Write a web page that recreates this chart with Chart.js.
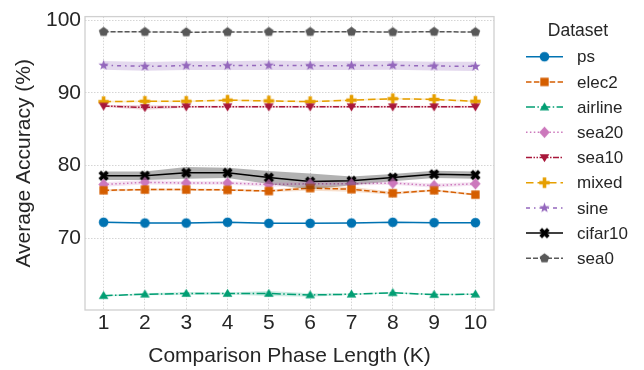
<!DOCTYPE html>
<html><head><meta charset="utf-8">
<script src="https://cdn.jsdelivr.net/npm/chart.js@4/dist/chart.umd.min.js"></script>
<style>html,body{margin:0;padding:0;background:#fff}#wrap{width:644px;height:370px}</style>
</head><body><div id="wrap"><canvas id="c" width="644" height="370"></canvas></div>
<script>
const phaseLengths = [1,2,3,4,5,6,7,8,9,10];
const yTickValues = [70,80,90,100];
const seriesNames = ['ps','elec2','airline','sea20','sea10','mixed','sine','cifar10','sea0'];
const ps      = [72.2,72.1,72.1,72.2,72.05,72.05,72.1,72.2,72.15,72.15];
const elec2   = [76.6,76.7,76.7,76.65,76.5,76.9,76.75,76.2,76.6,76.0];
const airline = [62.1,62.3,62.4,62.4,62.4,62.2,62.3,62.5,62.25,62.3];
const sea20   = [77.4,77.7,77.6,77.6,77.4,77.5,77.5,77.6,77.25,77.5];
const sea10   = [88.2,88.0,88.1,88.1,88.1,88.1,88.1,88.1,88.1,88.1];
const mixed   = [88.8,88.85,88.85,89.0,88.9,88.8,89.0,89.2,89.1,88.85];
const sine    = [93.8,93.65,93.75,93.75,93.8,93.75,93.75,93.8,93.7,93.65];
const cifar10 = [78.6,78.6,79.0,79.0,78.35,77.8,77.9,78.35,78.8,78.7];
const sea0    = [98.4,98.4,98.35,98.38,98.4,98.4,98.42,98.38,98.42,98.38];
// spread (half width of the shaded band)
const psStd      = [0.1,0.08,0.08,0.1,0.08,0.08,0.08,0.08,0.08,0.08];
const elec2Std   = [0.15,0.15,0.15,0.15,0.15,0.35,0.35,0.2,0.15,0.15];
const airlineStd = [0.1,0.15,0.2,0.15,0.35,0.25,0.1,0.1,0.1,0.1];
const sea20Std   = [0.3,0.3,0.25,0.25,0.3,0.3,0.25,0.25,0.3,0.25];
const sea10Std   = [0.15,0.3,0.15,0.15,0.15,0.15,0.15,0.15,0.15,0.15];
const mixedStd   = [0.12,0.12,0.12,0.12,0.12,0.12,0.12,0.12,0.12,0.12];
const sineStd    = [0.6,0.6,0.6,0.6,0.65,0.6,0.6,0.6,0.6,0.65];
const cifar10Std = [0.6,0.6,0.8,0.7,0.9,1.1,0.6,0.5,0.5,0.5];
const sea0Std    = [0.08,0.08,0.08,0.08,0.08,0.08,0.08,0.08,0.08,0.08];

const values = {ps,elec2,airline,sea20,sea10,mixed,sine,cifar10,sea0};
const stds = {ps:psStd,elec2:elec2Std,airline:airlineStd,sea20:sea20Std,sea10:sea10Std,mixed:mixedStd,sine:sineStd,cifar10:cifar10Std,sea0:sea0Std};

const styles = {
  ps:{color:'#0173b2',dash:[],marker:'circle',band:0.2},
  elec2:{color:'#d55e00',dash:[5.5,2.4],marker:'square',band:0.2},
  airline:{color:'#029e73',dash:[9,2.4,1.5,2.4],marker:'triangle',band:0.2},
  sea20:{color:'#cc78bc',dash:[1.5,2.4],marker:'diamond',band:0.2},
  sea10:{color:'#a8173a',dash:[6,1.5,1.5,1.5,1.5,1.5],marker:'tridown',band:0.2},
  mixed:{color:'#e69f00',dash:[7.5,4],marker:'plus',band:0.2},
  sine:{color:'#9467bd',dash:[4,4,1.5,4],marker:'star',band:0.25},
  cifar10:{color:'#000000',dash:[],marker:'x',band:0.3},
  sea0:{color:'#595959',dash:[5,2],marker:'pentagon',band:0.2}
};

function hexA(hex,a){const n=parseInt(hex.slice(1),16);return `rgba(${n>>16&255},${n>>8&255},${n&255},${a})`;}

function makeMarker(shape,color){
  const S=13, c=document.createElement('canvas'); c.width=S;c.height=S;
  const g=c.getContext('2d'); g.fillStyle=color; g.translate(S/2,S/2);
  g.beginPath();
  const r=4.8;
  if(shape==='circle'){g.arc(0,0,r,0,Math.PI*2);}
  else if(shape==='square'){g.rect(-4.2,-4.2,8.4,8.4);}
  else if(shape==='triangle'){g.moveTo(0,-r);g.lineTo(r,r*0.7);g.lineTo(-r,r*0.7);g.closePath();}
  else if(shape==='tridown'){g.moveTo(0,r);g.lineTo(r,-r*0.7);g.lineTo(-r,-r*0.7);g.closePath();}
  else if(shape==='diamond'){g.moveTo(0,-5.8);g.lineTo(5.2,0);g.lineTo(0,5.8);g.lineTo(-5.2,0);g.closePath();}
  else if(shape==='plus'){const w=1.8,l=5.2;g.rect(-w,-l,2*w,2*l);g.rect(-l,-w,2*l,2*w);}
  else if(shape==='star'){for(let i=0;i<10;i++){const rr=i%2?2.3:5.4;const a=-Math.PI/2+i*Math.PI/5;g.lineTo(rr*Math.cos(a),rr*Math.sin(a));}g.closePath();}
  else if(shape==='x'){g.save();g.rotate(Math.PI/4);const w=1.9,l=5.4;g.rect(-w,-l,2*w,2*l);g.rect(-l,-w,2*l,2*w);g.restore();}
  else if(shape==='pentagon'){for(let i=0;i<5;i++){const a=-Math.PI/2+i*2*Math.PI/5;g.lineTo(r*1.05*Math.cos(a),r*1.05*Math.sin(a));}g.closePath();}
  g.fill();
  return c;
}

const markers={};
seriesNames.forEach(n=>markers[n]=makeMarker(styles[n].marker,styles[n].color));

const datasets=[];
seriesNames.forEach(n=>{
  const v=values[n], s=stds[n], st=styles[n];
  datasets.push({label:n+'_lo',data:phaseLengths.map((x,i)=>({x,y:v[i]-s[i]})),borderWidth:0,pointRadius:0,fill:false,showLine:true,borderColor:'rgba(0,0,0,0)'});
  datasets.push({label:n+'_hi',data:phaseLengths.map((x,i)=>({x,y:v[i]+s[i]})),borderWidth:0,pointRadius:0,fill:'-1',backgroundColor:hexA(st.color,st.band),showLine:true,borderColor:'rgba(0,0,0,0)'});
});
seriesNames.forEach(n=>{
  const v=values[n], st=styles[n];
  datasets.push({label:n,data:phaseLengths.map((x,i)=>({x,y:v[i]})),borderColor:st.color,borderWidth:1.5,borderDash:st.dash,pointStyle:markers[n],pointRadius:5,fill:false,showLine:true,tension:0});
});

const FONT='"Liberation Sans", Arial, sans-serif';

const framePlugin={id:'frame',
  afterDraw(chart){
    const {ctx,chartArea:a}=chart;
    ctx.save();ctx.strokeStyle='#d0d0d0';ctx.lineWidth=1.3;ctx.strokeRect(a.left,a.top,a.right-a.left,a.bottom-a.top);
    // legend
    const lx=526, lx2=563, tx=577, y0=56.7, dy=25.2;
    ctx.fillStyle='#262626';ctx.font='17.5px '+FONT;ctx.textAlign='center';ctx.textBaseline='middle';
    ctx.fillText('Dataset',578,31);
    ctx.textAlign='left';ctx.font='17px '+FONT;
    seriesNames.forEach((n,i)=>{
      const y=y0+i*dy, st=styles[n];
      ctx.strokeStyle=st.color;ctx.lineWidth=1.5;ctx.setLineDash(st.dash);
      ctx.beginPath();ctx.moveTo(lx,y);ctx.lineTo(lx2,y);ctx.stroke();ctx.setLineDash([]);
      const m=markers[n];ctx.drawImage(m,544.5-m.width/2,y-m.height/2);
      ctx.fillStyle='#262626';ctx.fillText(n,tx,y+1);
    });
    ctx.restore();
  }};

new Chart(document.getElementById('c'),{
  type:'scatter',
  data:{datasets},
  options:{
    responsive:false,animation:false,
    layout:{padding:{left:0,right:150,top:7,bottom:0}},
    plugins:{legend:{display:false},tooltip:{enabled:false}},
    elements:{line:{tension:0}},
    scales:{
      x:{type:'linear',min:0.55,max:10.45,
        afterBuildTicks(s){s.ticks=phaseLengths.map(v=>({value:v}));},
        afterFit(s){s.height=60;},
        grid:{color:'#d5d5d5',lineWidth:1,drawTicks:false},
        border:{display:false,dash:[1.5,1.5]},
        ticks:{color:'#262626',font:{family:FONT,size:21},padding:1,callback:v=>String(v)},
        title:{display:true,text:'Comparison Phase Length (K)',color:'#262626',font:{family:FONT,size:21},padding:{top:0,bottom:1}}
      },
      y:{type:'linear',min:60.13,max:100.5,
        afterBuildTicks(s){s.ticks=yTickValues.map(v=>({value:v}));},
        afterFit(s){s.width=85;},
        grid:{color:'#d5d5d5',lineWidth:1,drawTicks:false},
        border:{display:false,dash:[1.5,1.5]},
        ticks:{color:'#262626',font:{family:FONT,size:21},padding:4,callback:v=>String(v)},
        title:{display:true,text:'Average Accuracy (%)',color:'#262626',font:{family:FONT,size:21},padding:{top:12,bottom:2}}
      }
    }
  },
  plugins:[framePlugin]
});
</script></body></html>
